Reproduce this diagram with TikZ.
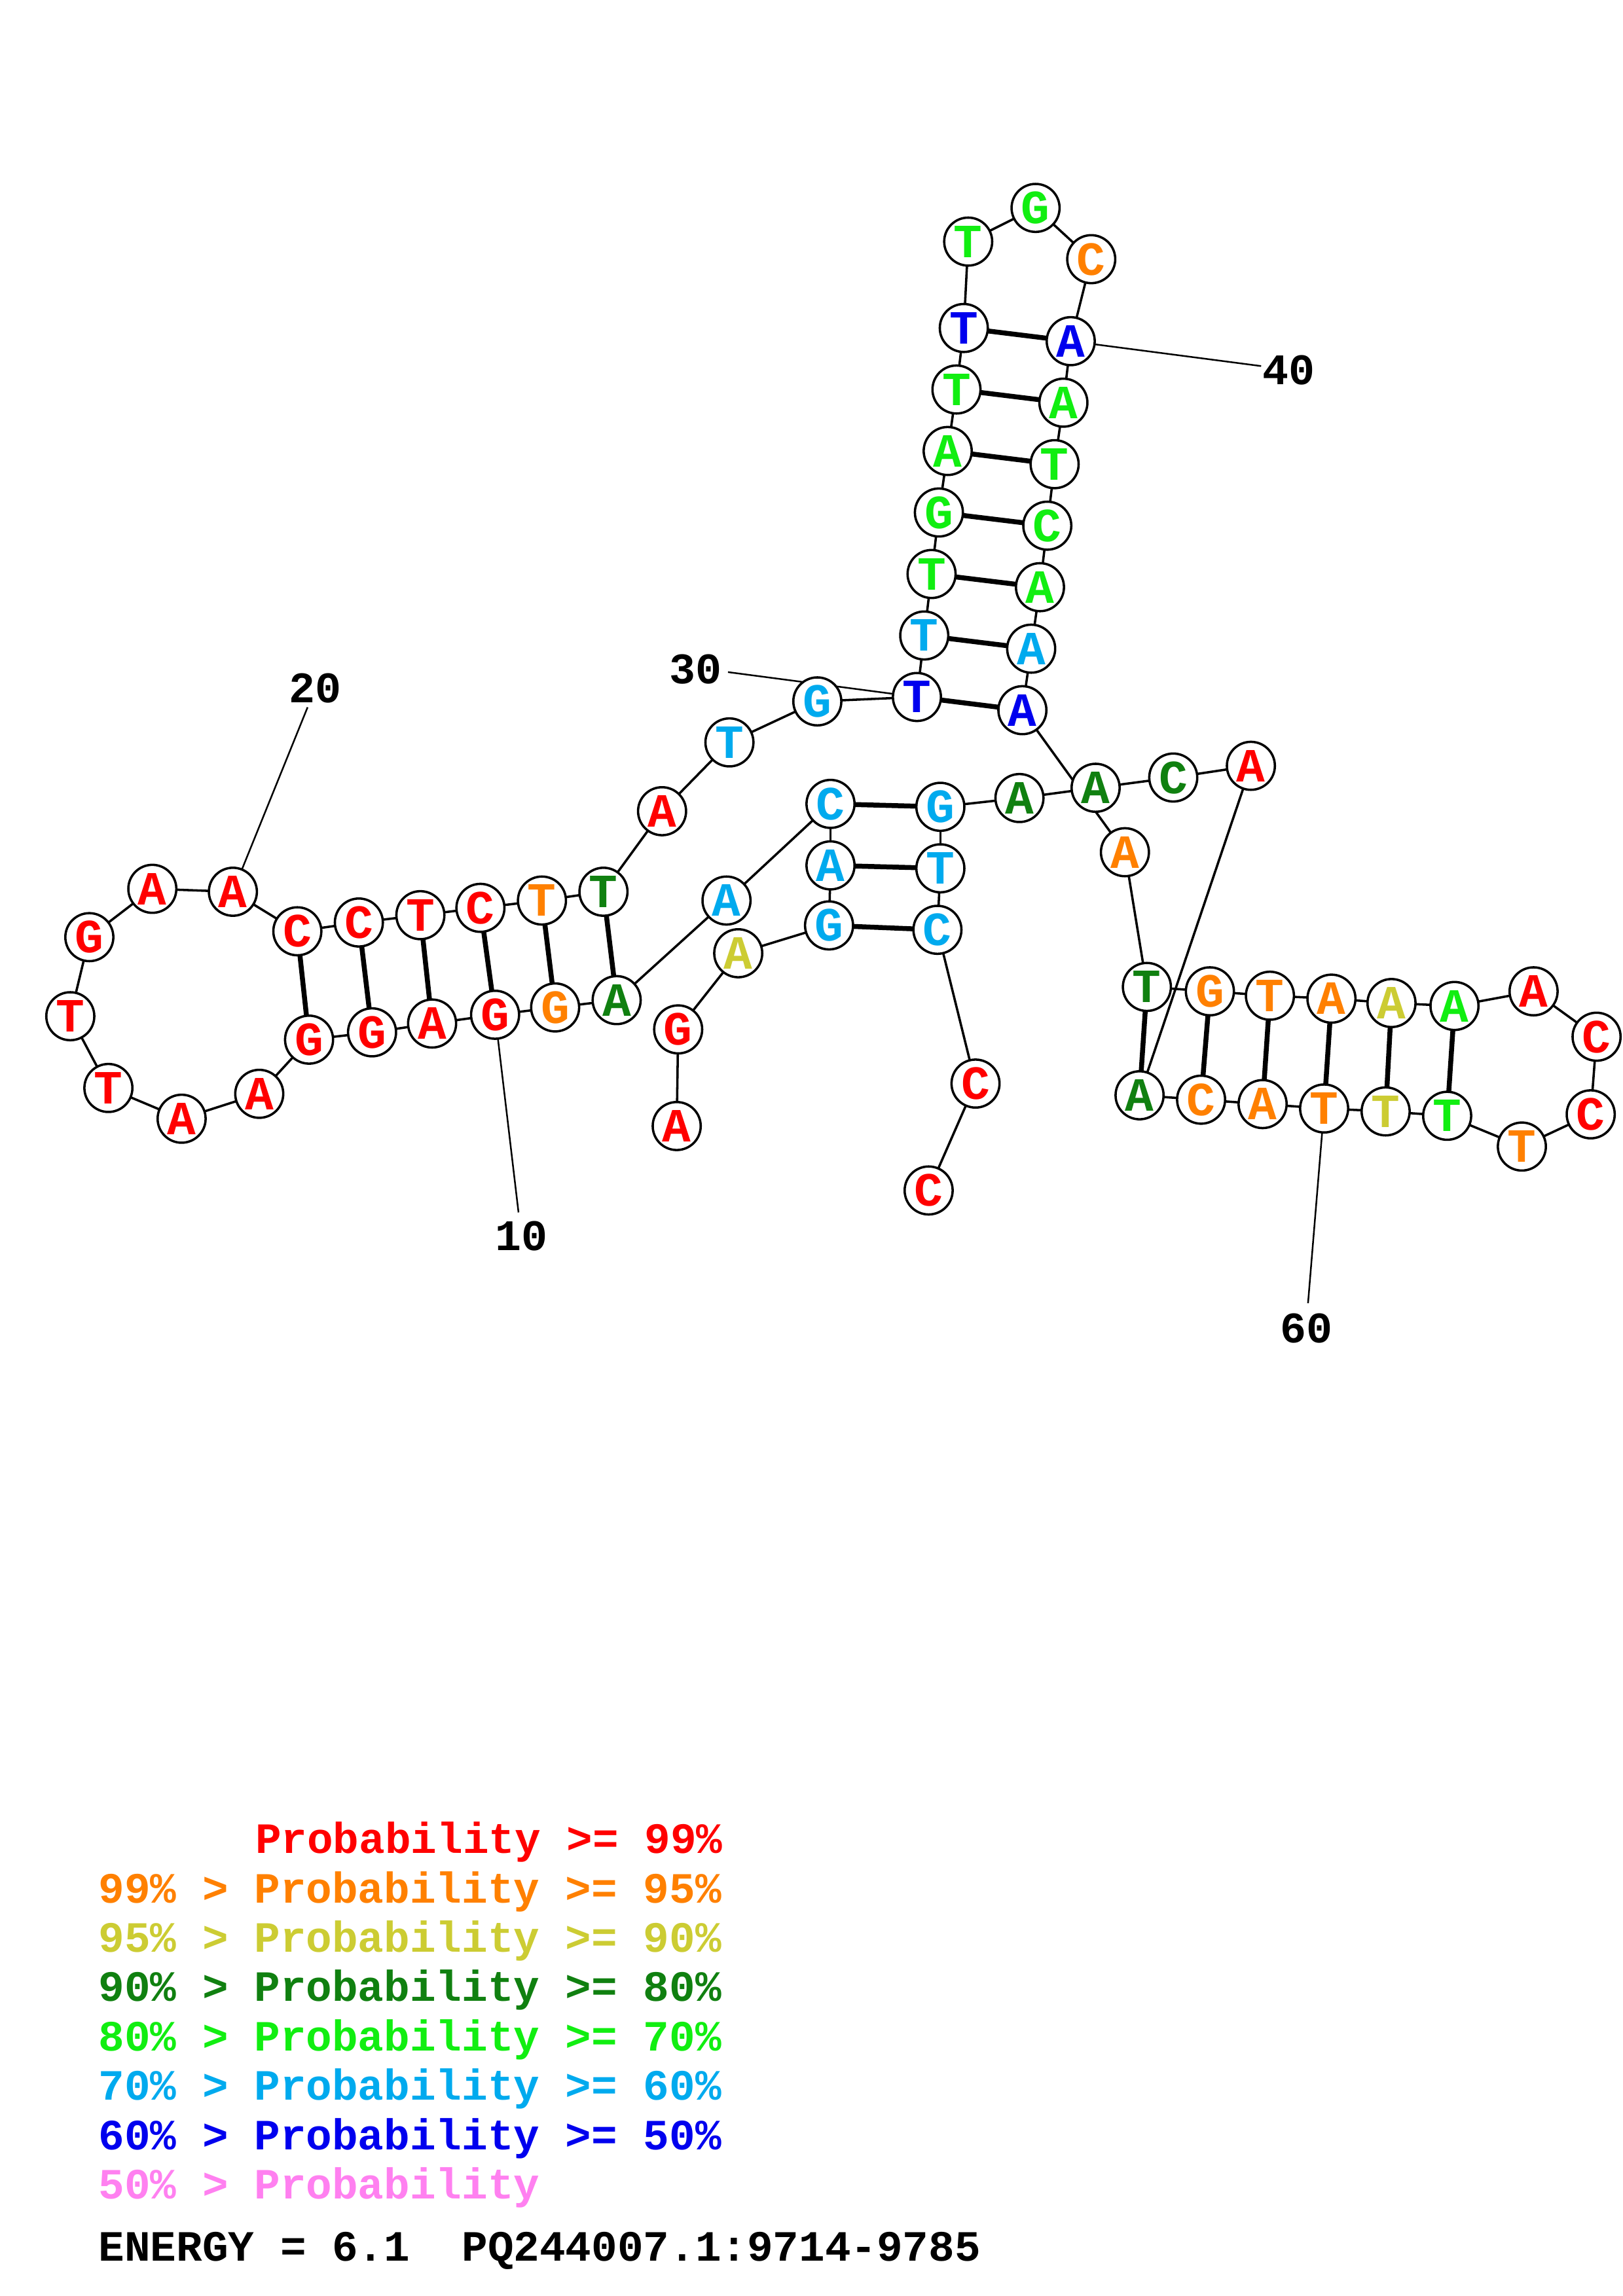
\documentclass[tikz,border=0pt]{standalone}
\usepackage{fontspec}
\setmonofont{Liberation Mono}
\usetikzlibrary{backgrounds}
\definecolor{pred}{HTML}{FF0000}
\definecolor{porange}{HTML}{FF8000}
\definecolor{pyellow}{HTML}{CCCC33}
\definecolor{pdgreen}{HTML}{108010}
\definecolor{pbgreen}{HTML}{11EE11}
\definecolor{plblue}{HTML}{00AAEE}
\definecolor{pblue}{HTML}{0000EE}
\definecolor{ppink}{HTML}{FF80F0}
\tikzset{
  nt/.style={circle, draw=black, line width=0.85pt, fill=white, minimum size=17.6pt, inner sep=0pt,
    font=\fontsize{17.5}{17.5}\selectfont\ttfamily\bfseries},
  bb/.style={line width=0.85pt},
  bp/.style={line width=1.8pt},
  lead/.style={line width=0.6pt},
  lab/.style={inner sep=0pt, font=\fontsize{16}{16}\selectfont\ttfamily\bfseries},
  leg/.style={inner sep=0pt, anchor=base west, font=\fontsize{15.85}{16}\selectfont\ttfamily\bfseries}
}
\begin{document}
\begin{tikzpicture}[x=0.537pt,y=-0.537pt]
\useasboundingbox (0,0) rectangle (1108,1568);
\foreach \i/\b/\x/\y/\c in {
 1/A/462/769/pred, 2/G/463/703/pred, 3/A/504/651/pyellow, 4/G/566/632/plblue,
 5/A/567/591/plblue, 6/C/567/549/plblue, 7/A/496/615/plblue, 8/A/421/683/pdgreen,
 9/G/379/688/porange, 10/G/338/693/pred, 11/A/295/699/pred, 12/G/254/705/pred,
 13/G/211/710/pred, 14/A/177/747/pred, 15/A/124/764/pred, 16/T/74/743/pred,
 17/T/48/694/pred, 18/G/61/640/pred, 19/A/104/607/pred, 20/A/159/609/pred,
 21/C/203/636/pred, 22/C/245/630/pred, 23/T/287/625/pred, 24/C/328/620/pred,
 25/T/370/615/porange, 26/T/412/609/pdgreen, 27/A/452/554/pred, 28/T/498/507/plblue,
 29/G/558/479/plblue, 30/T/626/476/pblue, 31/T/631/434/plblue, 32/T/636/392/pbgreen,
 33/G/641/350/pbgreen, 34/A/647/308/pbgreen, 35/T/653/266/pbgreen, 36/T/658/224/pblue,
 37/T/661/165/pbgreen, 38/G/707/142/pbgreen, 39/C/745/177/porange, 40/A/731/233/pblue,
 41/A/726/275/pbgreen, 42/T/720/317/pbgreen, 43/C/715/359/pbgreen, 44/A/710/401/pbgreen,
 45/A/704/443/plblue, 46/A/698/485/pblue, 47/A/768/582/porange, 48/T/783/674/pdgreen,
 49/G/826/677/porange, 50/T/867/680/porange, 51/A/909/682/porange, 52/A/950/685/pyellow,
 53/A/993/687/pbgreen, 54/A/1047/677/pred, 55/C/1090/708/pred, 56/C/1086/761/pred,
 57/T/1039/783/porange, 58/T/988/762/pbgreen, 59/T/946/759/pyellow, 60/T/904/757/porange,
 61/A/862/754/porange, 62/C/820/751/porange, 63/A/778/748/pdgreen, 64/A/854/523/pred,
 65/C/801/531/pdgreen, 66/A/748/538/pdgreen, 67/A/696/545/pdgreen, 68/G/642/551/plblue,
 69/T/642/593/plblue, 70/C/640/635/plblue, 71/C/666/740/pred, 72/C/634/813/pred}
{\node[nt, text=\c] (n\i) at (\x,\y) {\b};}
% label end points
\coordinate (e20) at (210,483);
\coordinate (e10) at (354,828);
\coordinate (e30) at (497,459);
\coordinate (e40) at (861,250);
\coordinate (e60) at (893,890);
\node[lab] (l20) at (215,470) {20};
\node[lab] (l10) at (356,844) {10};
\node[lab] (l30) at (475,457) {30};
\node[lab] (l40) at (880,253) {40};
\node[lab] (l60) at (892,907) {60};
\begin{scope}[on background layer]
\foreach \i in {1,...,71}{\pgfmathtruncatemacro\j{\i+1}\draw[bb] (n\i.center) -- (n\j.center);}
\foreach \a/\b in {6/68,5/69,4/70,8/26,9/25,10/24,11/23,12/22,13/21,30/46,31/45,32/44,33/43,34/42,35/41,36/40,48/63,49/62,50/61,51/60,52/59,53/58}
{\draw[bp] (n\a.center) -- (n\b.center);}
\draw[lead] (e20) -- (n20.center);
\draw[lead] (n10.center) -- (e10);
\draw[lead] (e30) -- (n30.center);
\draw[lead] (n40.center) -- (e40);
\draw[lead] (n60.center) -- (e60);
\end{scope}
% legend
\node[leg, text=pred] (g1) at (174,1265.7) {Probability >= 99\%};
\node[leg, text=porange] (g2) at (67,1299.4) {99\% > Probability >= 95\%};
\node[leg, text=pyellow] (g3) at (67,1333.1) {95\% > Probability >= 90\%};
\node[leg, text=pdgreen] (g4) at (67,1366.8) {90\% > Probability >= 80\%};
\node[leg, text=pbgreen] (g5) at (67,1400.5) {80\% > Probability >= 70\%};
\node[leg, text=plblue] (g6) at (67,1434.2) {70\% > Probability >= 60\%};
\node[leg, text=pblue] (g7) at (67,1467.9) {60\% > Probability >= 50\%};
\node[leg, text=ppink] (g8) at (67,1501.6) {50\% > Probability};
\node[leg, text=black] (en) at (67,1544.2) {ENERGY = 6.1\ \ PQ244007.1:9714-9785};
\end{tikzpicture}
\end{document}
